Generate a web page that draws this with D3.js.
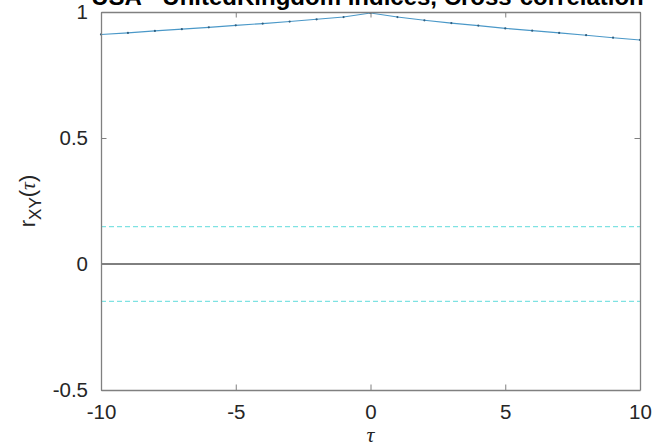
<!DOCTYPE html>
<html><head><meta charset="utf-8">
<script src="https://cdn.jsdelivr.net/npm/d3@7"></script>
<style>body{margin:0;background:#fff}svg{display:block}</style>
</head><body>
<svg id="c" width="654" height="448"></svg>
<script>
const lags = [-10,-9,-8,-7,-6,-5,-4,-3,-2,-1,0,1,2,3,4,5,6,7,8,9,10];
const rxy  = [0.911,0.917,0.925,0.932,0.939,0.947,0.954,0.962,0.971,0.980,0.996,0.980,0.967,0.956,0.946,0.935,0.926,0.917,0.908,0.898,0.889];
const confBound = 0.148;
const xTicks = [-10,-5,0,5,10];
const yTicks = [-0.5,0,0.5,1];
const xTickLabels = ["-10","-5","0","5","10"];
const yTickLabels = ["-0.5","0","0.5","1"];
const titleText = "USA - UnitedKingdom indices, Cross-correlation";

const svg = d3.select("#c");
const L=101,R=640,T=12,B=390;
const x = d3.scaleLinear().domain([-10,10]).range([L,R]);
const y = d3.scaleLinear().domain([-0.5,1]).range([B,T]);
const font = "'Liberation Sans', Arial, sans-serif";
const axisCol = "#808080", textCol = "#262626";

// confidence bounds
[confBound,-confBound].forEach(v=>{
  svg.append("line").attr("x1",x(-10)).attr("x2",x(10)).attr("y1",y(v)).attr("y2",y(v))
    .attr("stroke","#7fe2e2").attr("stroke-width",1.2).attr("stroke-dasharray","5,3");
});
// zero line
svg.append("line").attr("x1",x(-10)).attr("x2",x(10)).attr("y1",y(0)).attr("y2",y(0))
  .attr("stroke","#000").attr("stroke-width",1);

// data line
const pts = lags.map((l,i)=>[l,rxy[i]]);
svg.append("path").datum(pts)
  .attr("d",d3.line().x(d=>x(d[0])).y(d=>y(d[1])))
  .attr("fill","none").attr("stroke","#4a98c8").attr("stroke-width",1.1);
svg.selectAll("circle.m").data(pts).enter().append("circle")
  .attr("cx",d=>x(d[0])).attr("cy",d=>y(d[1])).attr("r",1.1).attr("fill","#2f5f80");

// axes with d3 axis generators (ticks inward)
const tl = 5.5;
const gB = svg.append("g").attr("transform",`translate(0,${B})`)
  .call(d3.axisBottom(x).tickValues(xTicks).tickSizeInner(-tl).tickSizeOuter(0).tickPadding(14)
    .tickFormat((d,i)=>xTickLabels[i]));
const gT = svg.append("g").attr("transform",`translate(0,${T})`)
  .call(d3.axisTop(x).tickValues(xTicks).tickSizeInner(-tl).tickSizeOuter(0).tickFormat(""));
const gL = svg.append("g").attr("transform",`translate(${L},0)`)
  .call(d3.axisLeft(y).tickValues(yTicks).tickSizeInner(-tl).tickSizeOuter(0).tickPadding(13)
    .tickFormat((d,i)=>yTickLabels[i]));
const gR = svg.append("g").attr("transform",`translate(${R},0)`)
  .call(d3.axisRight(y).tickValues(yTicks).tickSizeInner(-tl).tickSizeOuter(0).tickFormat(""));
[gB,gT,gL,gR].forEach(g=>{
  g.select(".domain").attr("stroke",axisCol).attr("stroke-width",1.3);
  g.selectAll(".tick line").attr("stroke",axisCol).attr("stroke-width",1);
  g.selectAll(".tick text").attr("fill",textCol).attr("font-family",font).attr("font-size",20.5);
});
gB.selectAll(".tick text").attr("dy","0.71em");

// title
svg.append("text").attr("x",(L+R)/2-3).attr("y",5).attr("text-anchor","middle")
  .attr("font-family",font).attr("font-weight","bold").attr("font-size",24).attr("fill","#000")
  .text(titleText);

// x label
svg.append("text").attr("x",x(0)).attr("y",442).attr("text-anchor","middle")
  .attr("font-family","'Liberation Serif','DejaVu Serif',serif").attr("font-style","italic")
  .attr("font-size",22).attr("fill",textCol).text("τ");

// y label
const yl = svg.append("text").attr("transform","translate(35,201) rotate(-90)").attr("text-anchor","middle")
  .attr("font-family",font).attr("font-size",22).attr("fill",textCol);
yl.append("tspan").text("r");
yl.append("tspan").attr("font-size",17).attr("dy",6).text("XY");
yl.append("tspan").attr("dy",-6).text("(");
yl.append("tspan").attr("font-family","'Liberation Serif',serif").attr("font-style","italic").text("τ");
yl.append("tspan").text(")");
</script>
</body></html>
